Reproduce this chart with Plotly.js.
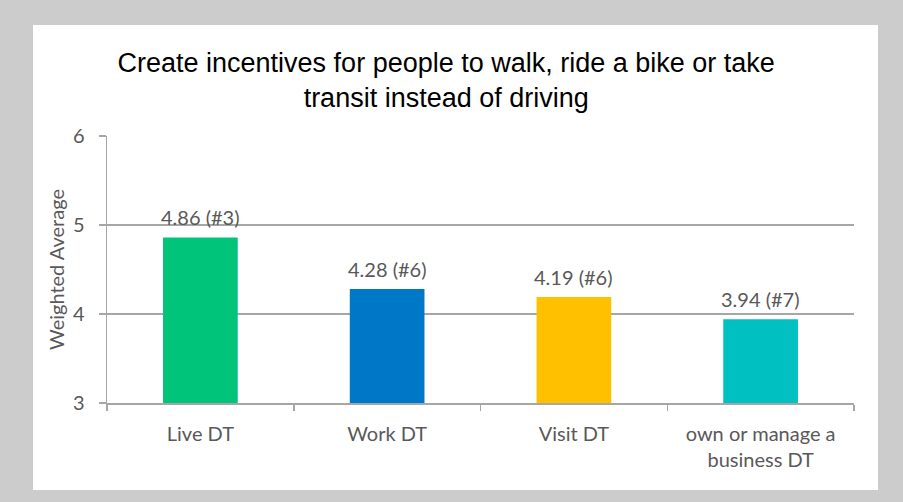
<!DOCTYPE html>
<html>
<head>
<meta charset="utf-8">
<script src="https://cdn.plot.ly/plotly-3.0.1.min.js"></script>
<style>
  html, body { margin: 0; padding: 0; width: 903px; height: 502px; background: #cccccc; overflow: hidden; }
  #chart { position: absolute; left: 33px; top: 25px; width: 845px; height: 465px; background: #ffffff; }
</style>
</head>
<body>
<div id="chart"></div>
<script>
const categories = ["Live DT", "Work DT", "Visit DT", "own or manage a<br>business DT"];
const values = [4.86, 4.28, 4.19, 3.94];
const ranks = ["#3", "#6", "#6", "#7"];
const barColors = ["#00c479", "#0078c8", "#ffc000", "#00c0c2"];
const yTicks = [3, 4, 5, 6];

const labels = values.map((v, i) => v.toFixed(2) + " (" + ranks[i] + ")");
const lblFont = "Lato, 'Open Sans', sans-serif";

const trace = {
  type: "bar",
  x: categories,
  y: values,
  base: 0,
  marker: { color: barColors, line: { width: 0 } },
  cliponaxis: false,
  hoverinfo: "none"
};

const annotations = categories.map((c, i) => ({
  x: c,
  y: values[i],
  xref: "x",
  yref: "y",
  text: labels[i],
  showarrow: false,
  xanchor: "center",
  yanchor: "bottom",
  yshift: 6,
  font: { family: lblFont, size: 20, color: "#595959" }
}));

const layout = {
  width: 845,
  height: 465,
  paper_bgcolor: "#ffffff",
  plot_bgcolor: "#ffffff",
  margin: { l: 74, r: 24, t: 111, b: 87 },
  showlegend: false,
  bargap: 0.6,
  annotations: annotations,
  title: {
    text: "Create incentives for people to walk, ride a bike or take<br>transit instead of driving",
    font: { family: "'Liberation Sans', Arial, sans-serif", size: 27, color: "#000000" },
    x: 0.489,
    xanchor: "center",
    y: 0.899,
    yanchor: "middle"
  },
  xaxis: {
    type: "category",
    showline: true,
    linecolor: "#a6a6a6",
    linewidth: 1.5,
    ticks: "outside",
    tickson: "boundaries",
    ticklen: 6,
    tickcolor: "#a6a6a6",
    tickwidth: 1.5,
    ticklabelstandoff: 12,
    showgrid: false,
    tickfont: { family: lblFont, size: 20, color: "#595959" },
    fixedrange: true
  },
  yaxis: {
    range: [3, 6],
    tickvals: yTicks,
    ticktext: yTicks.map(String),
    showline: true,
    linecolor: "#a6a6a6",
    linewidth: 1.5,
    ticks: "outside",
    ticklen: 7,
    tickcolor: "#a6a6a6",
    tickwidth: 1.5,
    ticklabelstandoff: 10,
    showgrid: true,
    gridcolor: "#a6a6a6",
    gridwidth: 1.5,
    zeroline: false,
    tickfont: { family: lblFont, size: 20, color: "#595959" },
    title: {
      text: "Weighted Average",
      font: { family: lblFont, size: 20, color: "#595959" },
      standoff: 3
    },
    fixedrange: true
  }
};

Plotly.newPlot("chart", [trace], layout, { displayModeBar: false, staticPlot: true });
</script>
</body>
</html>
